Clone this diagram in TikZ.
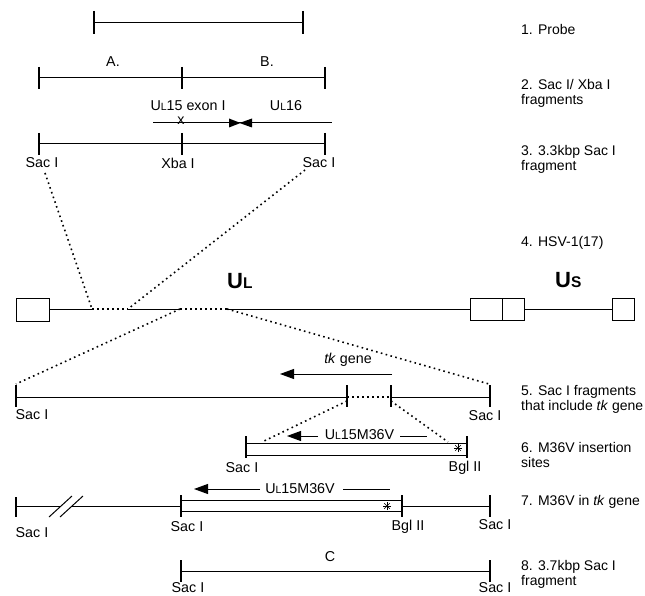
\documentclass[tikz,border=0pt]{standalone}
\usepackage{fontspec}
\setmainfont{Liberation Sans}
\usetikzlibrary{arrows.meta}
\newcommand\myUL{U{\fontsize{10.5}{10}\selectfont L}}
\newcommand\myast[1]{\foreach \a in {0,45,90,135}{\draw[line width=0.6pt] (#1) ++(\a:4) -- ++(\a+180:8);}}
\begin{document}
\begin{tikzpicture}[x=1pt,y=-1pt,
  lbl/.style={font=\fontsize{14.3}{15}\selectfont, inner sep=0pt},
  rlbl/.style={font=\fontsize{14}{15}\selectfont, inner sep=0pt, anchor=west, align=left},
  seg/.style={line width=1pt},
  tickmark/.style={line width=1.6pt},
  dots/.style={line width=1.6pt, dash pattern=on 1.6pt off 3.4pt},
  harrow/.style={line width=1pt, -{Triangle[length=14pt,width=10pt]}},
]
\useasboundingbox (0,0) rectangle (645,596);

% ---------- right-hand labels
\node[rlbl] (l1) at (521,29) {1. Probe};
\node[rlbl] (l2) at (521,93) {2. Sac I/ Xba I\\fragments};
\node[rlbl] (l3) at (521,159.5) {3. 3.3kbp Sac I\\fragment};
\node[rlbl] (l4) at (521,243) {4. HSV-1(17)};
\node[rlbl] (l5) at (521,399.5) {5. Sac I fragments\\that include \textit{tk} gene};
\node[rlbl] (l6) at (521,455) {6. M36V insertion\\sites};
\node[rlbl] (l7) at (521,502) {7. M36V in \textit{tk} gene};
\node[rlbl] (l8) at (521,574.5) {8. 3.7kbp Sac I\\fragment};

% ---------- 1. probe
\coordinate (p1) at (94,23); \coordinate (p2) at (303,23);
\draw[seg] (p1) -- (p2);
\foreach \x in {94,303} \draw[tickmark] (\x,11) -- (\x,34);

% ---------- 2. Sac I / Xba I fragments
\coordinate (f1) at (39,78); \coordinate (f3) at (325,78);
\draw[seg] (f1) -- (f3);
\foreach \x in {39,182,325} \draw[tickmark] (\x,67) -- (\x,89);
\node[lbl] (A) at (113,62) {A.};
\node[lbl] (B) at (267,62) {B.};

% ---------- gene line
\node[lbl] (ul15) at (188,106) {\myUL15 exon I};
\node[lbl] (ul16) at (286,106) {\myUL16};
\coordinate (g1) at (153,123); \coordinate (g2) at (332,123);
\draw[seg] (g1) -- (g2);
\node[lbl] (xmark) at (181,121) {x};
\fill (229,118.5) -- (240.5,123) -- (229,127.5) -- cycle;
\fill (252,118.5) -- (239.5,123) -- (252,127.5) -- cycle;

% ---------- 3. 3.3 kbp Sac I fragment
\coordinate (s1) at (39,144); \coordinate (s3) at (325,144);
\draw[seg] (s1) -- (s3);
\foreach \x in {39,182,325} \draw[tickmark] (\x,133) -- (\x,155);
\node[lbl] (sacA) at (42,163) {Sac I};
\node[lbl] (xba) at (178,163) {Xba I};
\node[lbl] (sacB) at (319,163) {Sac I};

% ---------- 4. genome
\draw[seg] (16,298) rectangle (49,321);
\coordinate (h0) at (49,309);
\coordinate (h1) at (92,309);
\coordinate (h2) at (128,309);
\coordinate (h3) at (180,309);
\coordinate (h4) at (227,309);
\coordinate (h5) at (470,309);
\draw[seg] (h0) -- (h1);
\draw[dots] (h1) -- (h2);
\draw[seg] (h2) -- (h3);
\draw[dots] (h3) -- (h4);
\draw[seg] (h4) -- (h5);
\draw[seg] (470,298) rectangle (524,320);
\draw[seg] (502,298) -- (502,320);
\draw[seg] (524,309) -- (612,309);
\draw[seg] (612,298) rectangle (634,320);
\node[anchor=base west, inner sep=0pt] (UL) at (227,288)
  {\bfseries\fontsize{22}{22}\selectfont U\fontsize{15.5}{15}\selectfont L};
\node[anchor=base west, inner sep=0pt] (US) at (555,287)
  {\bfseries\fontsize{22}{22}\selectfont U\fontsize{15.5}{15}\selectfont S};

% dotted projections 3 -> 4
\coordinate (d1) at (45,173); \coordinate (d2) at (305,170);
\draw[dots] (d1) -- (h1);
\draw[dots] (d2) -- (h2);

% ---------- 5. Sac I fragments with tk
\coordinate (r1) at (16,397); \coordinate (r2) at (347,397);
\coordinate (r3) at (391,397); \coordinate (r4) at (490,397);
\draw[seg] (r1) -- (r2);
\draw[dots] (r2) -- (r3);
\draw[seg] (r3) -- (r4);
\foreach \x in {16,347,391,490} \draw[tickmark] (\x,385) -- (\x,407);
\coordinate (e1) at (16,384); \coordinate (e2) at (489,384);
\draw[dots] (h3) -- (e1);
\draw[dots] (h4) -- (e2);
\node[lbl] (tk) at (348,360) {\textit{tk} gene};
\coordinate (tka) at (392,374); \coordinate (tkb) at (280,374);
\draw[harrow] (tka) -- (tkb);
\node[lbl] (sac5a) at (32,415) {Sac I};
\node[lbl] (sac5b) at (485,416) {Sac I};

% ---------- 6. insertion sites
\draw[seg] (246,443) rectangle (467,455);
\foreach \x in {246,467} \draw[tickmark] (\x,436) -- (\x,458);
\coordinate (q1) at (347,401); \coordinate (q2) at (391,401);
\coordinate (q3) at (262,442); \coordinate (q4) at (448,442);
\draw[dots] (q1) -- (q3);
\draw[dots] (q2) -- (q4);
\node[lbl] (m6) at (359.5,435) {\myUL15M36V};
\draw[harrow] (318,436) -- (287,436);
\draw[seg] (400,436) -- (427,436);
\myast{458,448}
\node[lbl] (sac6) at (242,468) {Sac I};
\node[lbl] (bgl6) at (465,468) {Bgl II};

% ---------- 7. M36V in tk gene
\draw[seg] (16,506) -- (61,506);
\draw[seg] (72,506) -- (181,506);
\draw[seg] (49,517) -- (72,496);
\draw[seg] (60,517) -- (83,496);
\draw[seg] (181,500) rectangle (402,511);
\draw[seg] (402,506) -- (490,506);
\draw[tickmark] (16,497) -- (16,517);
\foreach \x in {181,402,490} \draw[tickmark] (\x,495) -- (\x,517);
\node[lbl] (m7) at (300,489) {\myUL15M36V};
\draw[harrow] (260,489) -- (194,489);
\draw[seg] (343,489) -- (390,489);
\myast{387,506}
\node[lbl] (sac7a) at (32,533) {Sac I};
\node[lbl] (sac7b) at (187,527) {Sac I};
\node[lbl] (bgl7) at (408,527) {Bgl II};
\node[lbl] (sac7c) at (495,525) {Sac I};

% ---------- 8. 3.7 kbp fragment
\coordinate (c1) at (181,571); \coordinate (c2) at (490,571);
\draw[seg] (c1) -- (c2);
\foreach \x in {181,490} \draw[tickmark] (\x,560) -- (\x,582);
\node[lbl] (C) at (330,557) {C};
\node[lbl] (sac8a) at (188,588) {Sac I};
\node[lbl] (sac8b) at (495,588) {Sac I};
\end{tikzpicture}
\end{document}
